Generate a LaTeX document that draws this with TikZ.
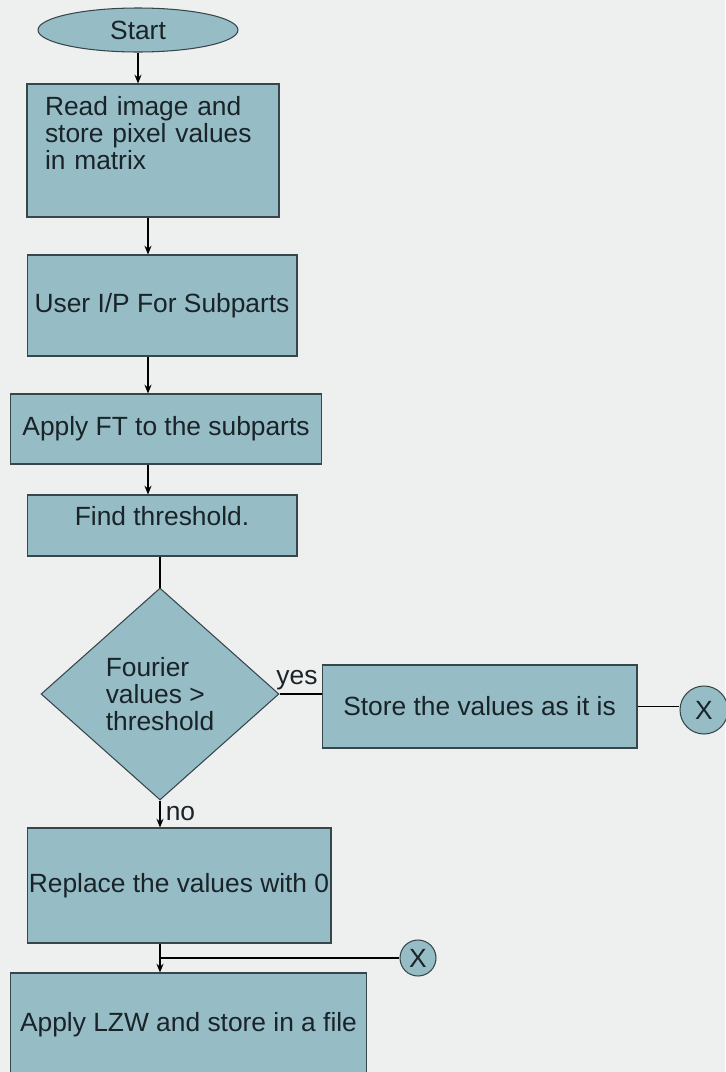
\documentclass[tikz,border=0pt]{standalone}
\usepackage{fontspec}
\setmainfont{Liberation Sans}
\usepackage{tikz}
\usetikzlibrary{arrows.meta,positioning,shapes.geometric,calc}
\definecolor{boxteal}{RGB}{150,188,198}
\definecolor{paper}{RGB}{238,239,239}
\definecolor{edgegray}{RGB}{55,70,75}
\definecolor{inkdark}{RGB}{25,35,40}
\tikzset{
  flowbox/.style={draw=edgegray, fill=boxteal, line width=0.6pt,
                  inner sep=0pt, align=center, text=inkdark,
                  font=\fontsize{15}{15.5}\selectfont},
  termbox/.style={flowbox, ellipse},
  decbox/.style ={flowbox, diamond, align=left},
  conbox/.style ={flowbox, circle, minimum size=#1},
  conbox/.default=0.72cm,
  lbl/.style    ={text=inkdark, font=\fontsize{15}{15}\selectfont},
  arr/.style    ={-{Stealth[length=5pt,width=4pt]}, line width=0.6pt},
  ln/.style     ={line width=0.6pt},
}

\begin{document}
\begin{tikzpicture}[x=0.02cm, y=-0.02cm]
  \useasboundingbox (0,0) rectangle (725,1072);
  \fill[paper] (0,0) rectangle (725,1072);
  % main column
  \node[termbox, minimum width=4cm, minimum height=0.88cm] (start) at (138,30) {Start};
  \node[flowbox, minimum width=5.04cm, minimum height=2.66cm,
        text width=4.32cm, align=left, text depth=1.8cm] (rd) at (153,150.5)
        {Read image and\\store pixel values\\in matrix};
  \node[flowbox, minimum width=5.4cm, minimum height=2.02cm] (usr) at (162,305.5) {User I/P For Subparts};
  \node[flowbox, minimum width=6.24cm, minimum height=1.4cm] (ft) at (166,429) {Apply FT to the subparts};
  \node[flowbox, minimum width=5.4cm, minimum height=1.22cm, text depth=0.4cm] (thr) at (162,525.5) {Find threshold.};
  \node[decbox, minimum width=4.76cm, minimum height=4.24cm] (dec) at (160,694) {Fourier\\values >\\threshold};
  \node[flowbox, minimum width=6.3cm, minimum height=1.66cm] (store) at (479.5,706.5) {Store the values as it is};
  \node[conbox=0.96cm] (xa) at (704,710) {X};
  \node[flowbox, minimum width=6.08cm, minimum height=2.3cm] (rep) at (179,885.5) {Replace the values with 0};
  \node[flowbox, minimum width=7.14cm, minimum height=2.08cm] (lzw) at (188.5,1025) {Apply LZW and store in a file};
  \node[conbox] (xb) at (418,958) {X};
  \coordinate (sp) at (148,0);
  \coordinate (jn) at (dec.south |- xb);

  % connectors
  \draw[arr] (start.south) -- (start.south |- rd.north);
  \draw[arr] (rd.south -| sp) -- (usr.north -| sp);
  \draw[arr] (usr.south -| sp) -- (ft.north -| sp);
  \draw[arr] (ft.south -| sp) -- (thr.north -| sp);
  \draw[ln] (thr.south -| dec.north) -- (dec.north);
  \draw[ln] (dec.east) -- (dec.east -| store.west)
        node[lbl, pos=1, above left, inner sep=2pt] {yes};
  \draw[ln] (store.east) -- (xa.west |- store.east);
  \draw[arr] (dec.south) -- (dec.south |- rep.north)
        node[lbl, midway, right, inner sep=3pt] {no};
  \draw[arr] (rep.south -| dec.south) -- (lzw.north -| dec.south);
  \draw[ln] (xb.west) -- (jn);
\end{tikzpicture}
\end{document}
